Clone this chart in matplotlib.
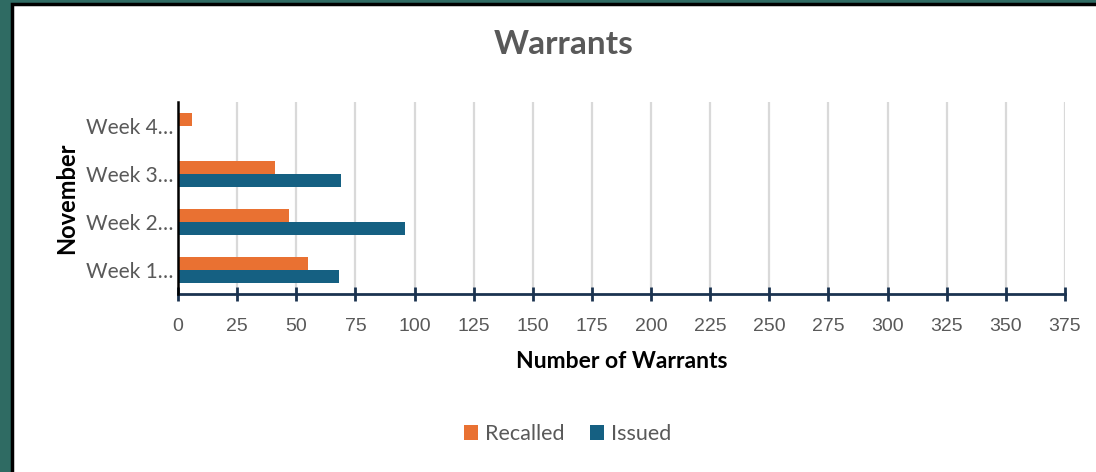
import matplotlib.pyplot as plt
import matplotlib.patches as mpatches
import numpy as np

semanas = ["Week 1…", "Week 2…", "Week 3…", "Week 4…"]
recalled = [55, 47, 41, 6]
issued = [68, 96, 69, 0]
ticks_x = list(range(0, 376, 25))

naranja = "#E97132"
azul = "#156082"
gris = "#595959"

plt.rcParams['font.family'] = ['Lato', 'DejaVu Sans']

fig = plt.figure(figsize=(10.96, 4.72), dpi=100)
fig.patch.set_facecolor("#2F6B63")
# marco blanco con borde negro
fig.patches.append(mpatches.Rectangle((12 / 1096, -0.01), 1.0, (472 - 4) / 472 + 0.01,
                                      transform=fig.transFigure, facecolor="white",
                                      edgecolor="black", linewidth=2.5, zorder=-1))

ax = fig.add_axes([178 / 1096, (472 - 294) / 472, (1065 - 178) / 1096, 192 / 472])
ax.set_facecolor("none")

y = np.arange(len(semanas))
alto = 0.27
ax.barh(y + alto / 2, recalled, height=alto, color=naranja, label="Recalled", zorder=3)
ax.barh(y - alto / 2, issued, height=alto, color=azul, label="Issued", zorder=3)

ax.set_xlim(0, 375)
ax.set_ylim(-0.5, 3.5)
ax.set_xticks(ticks_x)
ax.set_xticklabels([str(t) for t in ticks_x], fontsize=14, color=gris,
                   family=['Liberation Sans', 'DejaVu Sans'])
ax.set_yticks(y)
ax.set_yticklabels(semanas, fontsize=15, color=gris)
ax.tick_params(axis='y', length=0, pad=3)
ax.tick_params(axis='x', direction='inout', length=10, width=2, color="#1B3350", pad=12)

ax.grid(axis='x', color="#D9D9D9", linewidth=1.6, zorder=0)
for lado in ["top", "right"]:
    ax.spines[lado].set_visible(False)
ax.spines["left"].set_color("black")
ax.spines["left"].set_linewidth(1.8)
ax.spines["left"].set_zorder(4)
ax.spines["bottom"].set_color("#1B3350")
ax.spines["bottom"].set_linewidth(2)

ax.set_xlabel("Number of Warrants", fontsize=16.5, fontweight="bold", color="black", labelpad=12)
ax.set_ylabel("November", fontsize=17, fontweight="bold", color="black", labelpad=6)

fig.text(0.514, 0.905, "Warrants", ha="center", va="center", fontsize=24,
         fontweight="bold", color=gris)

fig.legend(loc="center", bbox_to_anchor=(0.518, 0.08), ncol=2, frameon=False,
           fontsize=15.5, handlelength=0.65, handleheight=0.65, columnspacing=1.2,
           handletextpad=0.3, labelcolor=gris)

fig.savefig("out.png", dpi=100, facecolor=fig.get_facecolor())
